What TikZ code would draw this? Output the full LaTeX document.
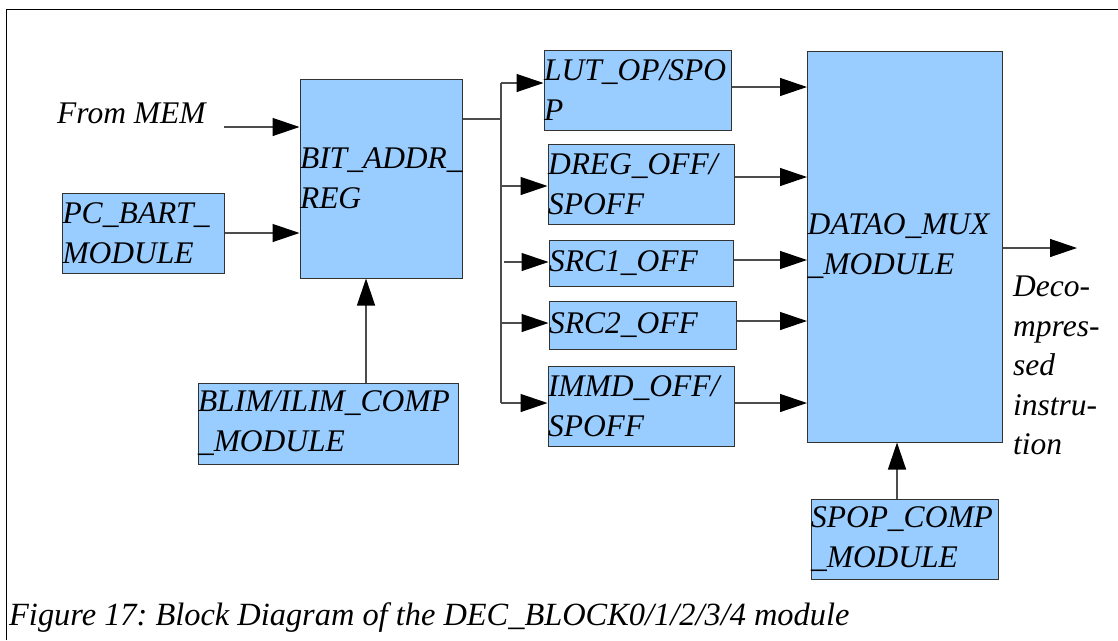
\documentclass[tikz,border=0pt]{standalone}
\usepackage{fontspec}
\setmainfont{Liberation Serif}[ItalicFont={Liberation Serif Italic}]
\usetikzlibrary{arrows.meta}
\definecolor{boxblue}{HTML}{99CCFF}
\frenchspacing
\begin{document}
\begin{tikzpicture}[x=1pt,y=-1pt,
  blk/.style={draw=black!80, line width=1pt, fill=boxblue, inner sep=0pt, align=left,
    font=\fontsize{31.5}{40}\selectfont\itshape},
  lbl/.style={inner sep=0pt, align=left, font=\fontsize{31.5}{39.5}\selectfont\itshape},
  conn/.style={draw=black!70, line width=1.3pt},
  arr/.style={conn, -{Triangle[length=27pt,width=18pt,color=black]}},
]
\useasboundingbox (0,0) rectangle (1118,640);
% frame
\draw[line width=1.2pt] (6.4,640) -- (6.4,9.3) -- (1118,9.3);

% blocks
\node[blk, minimum width=162pt, text width=162pt, minimum height=199pt] (bit) at (381,178.5) {BIT\_ADDR\_\\REG};
\node[blk, minimum width=161.5pt, text width=161.5pt, minimum height=80pt] (pc) at (143.25,233) {PC\_BART\_\\MODULE};
\node[blk, minimum width=260pt, text width=260pt, minimum height=81pt] (blim) at (328,423.5) {BLIM/ILIM\_COMP\\\_MODULE};
\node[blk, minimum width=187.5pt, text width=187.5pt, minimum height=80pt] (lut) at (637.75,90) {LUT\_OP/SPO\\P};
\node[blk, minimum width=186pt, text width=186pt, minimum height=80pt] (dreg) at (641,184) {DREG\_OFF/\\SPOFF};
\node[blk, minimum width=184pt, text width=184pt, minimum height=46pt] (src1) at (641,263) {SRC1\_OFF};
\node[blk, minimum width=187pt, text width=187pt, minimum height=48pt] (src2) at (642.5,325) {SRC2\_OFF};
\node[blk, minimum width=186pt, text width=186pt, minimum height=80pt] (immd) at (641,406) {IMMD\_OFF/\\SPOFF};
\node[blk, minimum width=194.5pt, text width=194.5pt, minimum height=391pt] (mux) at (904.75,246.5) {DATAO\_MUX\\\_MODULE};
\node[blk, minimum width=187pt, text width=187pt, minimum height=80pt] (spop) at (904.5,539) {SPOP\_COMP\\\_MODULE};

% labels
\node[lbl, anchor=base west] (mem) at (57,123) {From MEM};
\node[lbl, anchor=north west] (dec) at (1013,276) {Deco-\\mpres-\\sed\\instru-\\tion};
\node[inner sep=0pt, anchor=base west, font=\fontsize{32.4}{40}\selectfont\itshape] (cap) at (9,625)
  {Figure 17: Block Diagram of the DEC\_BLOCK0/1/2/3/4 module};

% helper coordinates
\coordinate (memin) at (224,127);
\coordinate (jn) at (501,119);
\coordinate (bt) at (501,83);
\coordinate (bb) at (501,403);
\coordinate (yd) at (501,186);
\coordinate (ys1) at (503.6,262);
\coordinate (ys2) at (501,323);
\coordinate (o1) at (0,87);
\coordinate (o2) at (0,177);
\coordinate (o3) at (0,260);
\coordinate (o4) at (0,321);
\coordinate (o5) at (0,403);
\coordinate (bl) at (366,383);
\coordinate (sp) at (897,499);
\coordinate (outp) at (1077,248);

% inputs to BIT_ADDR_REG
\draw[arr] (memin) -- (bit.west |- memin);
\draw[arr] (pc.east) -- (pc.east -| bit.west);
\draw[arr] (bl) -- (bl |- bit.south);

% bus
\draw[conn] (bit.east |- jn) -- (jn);
\draw[conn] (bt) -- (bb);
\draw[arr] (bt) -- (lut.west |- bt);
\draw[arr] (yd) -- (dreg.west |- yd);
\draw[arr] (ys1) -- (src1.west |- ys1);
\draw[arr] (ys2) -- (src2.west |- ys2);
\draw[arr] (bb) -- (immd.west |- bb);

% into mux
\draw[arr] (lut.east |- o1) -- (mux.west |- o1);
\draw[arr] (dreg.east |- o2) -- (mux.west |- o2);
\draw[arr] (src1.east |- o3) -- (mux.west |- o3);
\draw[arr] (src2.east |- o4) -- (mux.west |- o4);
\draw[arr] (immd.east |- o5) -- (mux.west |- o5);

% mux out and spop
\draw[arr] (mux.east |- outp) -- (outp);
\draw[arr] (sp) -- (sp |- mux.south);
\end{tikzpicture}
\end{document}
